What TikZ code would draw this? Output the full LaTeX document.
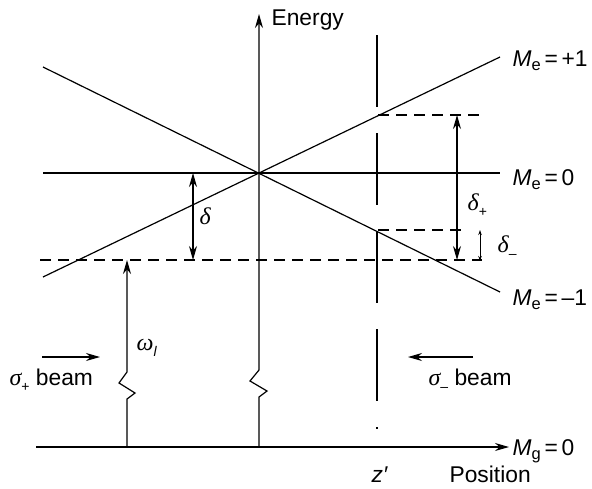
\documentclass[tikz,border=0pt]{standalone}
\usepackage{fontspec}
\setmainfont{Liberation Sans}
\newfontfamily\grk{Liberation Serif}
\usetikzlibrary{arrows.meta}
\newcommand\Msub[1]{\textit{M}\raisebox{-0.35ex}{\fontsize{16.5}{16.5}\selectfont #1}}
\newcommand\gk[1]{{\grk\itshape\fontsize{24}{26}\selectfont #1}}
\newcommand\gsub[1]{\raisebox{-0.5ex}{\fontsize{14}{14}\selectfont #1}}
\begin{document}
\begin{tikzpicture}[x=1pt,y=-1pt,line width=1.2pt,
  lab/.style={font=\fontsize{22.8}{26}\selectfont,inner sep=0pt},
  arr/.style={-{Stealth[length=14pt,width=8pt]}},
  darr/.style={{Stealth[length=14pt,width=8pt]}-{Stealth[length=14pt,width=8pt]}},
  sdarr/.style={line width=0.9pt,{Stealth[length=5pt,width=3.5pt]}-{Stealth[length=5pt,width=3.5pt]}},
  dsh/.style={dash pattern=on 11pt off 7pt},
  zline/.style={dash pattern=on 72pt off 26pt}]
\useasboundingbox (0,0) rectangle (592,488);
% coordinates
\coordinate (O) at (259,173);
\coordinate (Ebot) at (259,447);
\coordinate (Etop) at (259,14);
\coordinate (Hl) at (36,447);
\coordinate (Hr) at (509,447);
\coordinate (Z0l) at (43,173);
\coordinate (Z0r) at (500,173);
\coordinate (P1l) at (43,277);
\coordinate (P1r) at (500,57);
\coordinate (M1l) at (43,67);
\coordinate (M1r) at (500,292);
\coordinate (Dl) at (40,260);
\coordinate (Dr) at (482,260);
\coordinate (Ul) at (378,115);
\coordinate (Ur) at (482,115);
\coordinate (Ml) at (378,230);
\coordinate (Mr) at (463,230);
\coordinate (Zt) at (377,35);
\coordinate (Zb) at (377,429);
\coordinate (Wb) at (127,447);
\coordinate (Wt) at (127,260);
\coordinate (dA) at (193,173);
\coordinate (dB) at (193,260);
\coordinate (dpA) at (457,115);
\coordinate (dpB) at (457,260);
\coordinate (dmA) at (480,230);
\coordinate (dmB) at (480,261);
\coordinate (SPa) at (42,357);
\coordinate (SPb) at (100,357);
\coordinate (SMa) at (473,357);
\coordinate (SMb) at (408,357);
% energy levels
\draw (Z0l) -- (Z0r);
\draw (P1l) -- (P1r);
\draw (M1l) -- (M1r);
% dashed lines
\draw[dsh] (Dl) -- (Dr);
\draw[dsh] (Ul) -- (Ur);
\draw[dsh] (Ml) -- (Mr);
\draw[zline] (Zt) -- (Zb);
% axes
\draw[arr] (Hl) -- (Hr);
\draw[arr] (Ebot) -- (259,397) -- (267,391) -- (250,381) -- (259,370) -- (Etop);
\draw[arr] (Wb) -- (127,399) -- (135,393) -- (119,383) -- (127,372) -- (Wt);
% delta arrows
\draw[darr] (dA) -- (dB);
\draw[darr] (dpA) -- (dpB);
\draw[sdarr] (dmA) -- (dmB);
% beams
\draw[arr] (SPa) -- (SPb);
\draw[arr] (SMa) -- (SMb);
% labels
\node[lab,anchor=base west] (tE) at (271,25) {Energy};
\node[lab,anchor=base west] (tP1) at (512,66) {\Msub{e}\,=\,+1};
\node[lab,anchor=base west] (tZ0) at (512,185) {\Msub{e}\,=\,0};
\node[lab,anchor=base west] (tM1) at (512,305) {\Msub{e}\,=\,\textendash1};
\node[lab,anchor=base west] (tMg) at (512,455) {\Msub{g}\,=\,0};
\node[lab,anchor=base west] (tPos) at (449,482) {Position};
\node[lab,anchor=base] (tz) at (380,482) {\textit{z}\hspace{1pt}′};
\node[lab,anchor=base west] (td) at (199,224) {\gk{δ}};
\node[lab,anchor=base west] (tdp) at (467,210) {\gk{δ}\gsub{+}};
\node[lab,anchor=base west] (tdm) at (497,252) {\gk{δ}\gsub{\textendash}};
\node[lab,anchor=base west] (tw) at (136,350) {\gk{ω}\gsub{\textit{l}}};
\node[lab,anchor=base west] (tsp) at (9,385) {\gk{σ}\gsub{+} beam};
\node[lab,anchor=base west] (tsm) at (428,385) {\gk{σ}\gsub{\textendash} beam};
\end{tikzpicture}
\end{document}
